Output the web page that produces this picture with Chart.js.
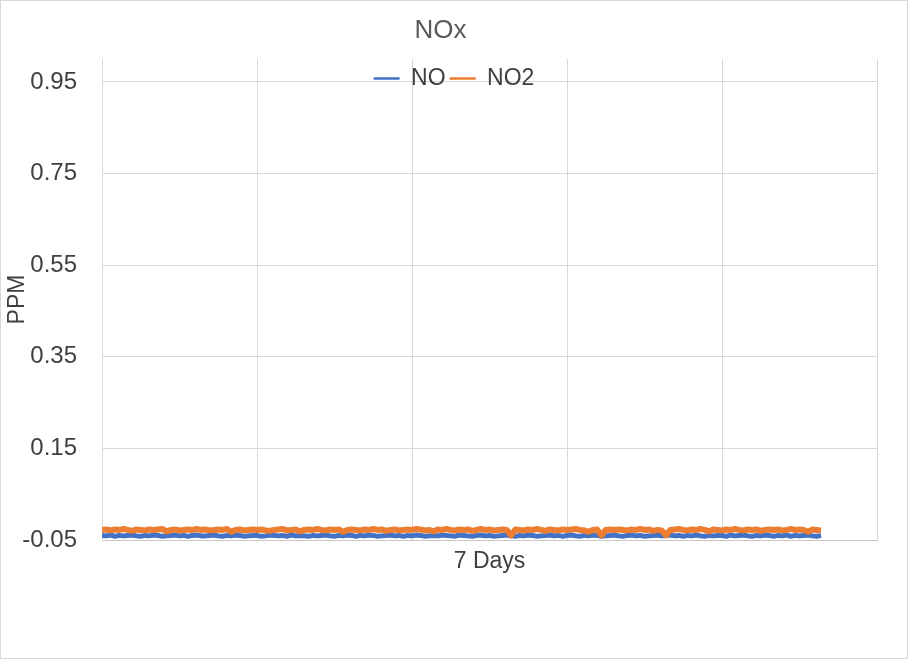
<!DOCTYPE html>
<html><head><meta charset="utf-8">
<script src="https://cdn.jsdelivr.net/npm/chart.js@4.4.1/dist/chart.umd.min.js"></script>
<style>
html,body{margin:0;padding:0;background:#fff;}
#wrap{width:908px;height:659px;box-sizing:border-box;border:1px solid #d9d9d9;background:#fff;}
canvas{display:block;}
</style></head><body>
<div id="wrap"><canvas id="c" width="906" height="657"></canvas></div>
<script>
const chartTitle = 'NOx';
const seriesNames = ['NO', 'NO2'];
const seriesColors = ['#4472C4', '#ED7D31'];
const xTitle = '7 Days';
const yTitle = 'PPM';
const yTickValues = [-0.05, 0.15, 0.35, 0.55, 0.75, 0.95];
const yTickLabels = ['-0.05', '0.15', '0.35', '0.55', '0.75', '0.95'];

const noValues = [
-0.040,-0.041,-0.039,-0.042,-0.040,-0.041,-0.040,-0.039,-0.041,-0.042,-0.040,-0.041,
-0.039,-0.040,-0.042,-0.041,-0.040,-0.039,-0.041,-0.040,-0.042,-0.040,-0.039,-0.041,
-0.041,-0.040,-0.039,-0.041,-0.042,-0.040,-0.041,-0.039,-0.040,-0.042,-0.041,-0.040,
-0.040,-0.042,-0.041,-0.039,-0.040,-0.041,-0.040,-0.042,-0.039,-0.041,-0.040,-0.041,
-0.042,-0.040,-0.041,-0.040,-0.039,-0.041,-0.042,-0.040,-0.041,-0.039,-0.040,-0.042,
-0.040,-0.041,-0.039,-0.040,-0.042,-0.041,-0.040,-0.039,-0.041,-0.040,-0.042,-0.040,
-0.041,-0.039,-0.040,-0.042,-0.041,-0.040,-0.041,-0.039,-0.040,-0.041,-0.042,-0.039,
-0.040,-0.041,-0.042,-0.040,-0.039,-0.041,-0.040,-0.042,-0.041,-0.040,-0.039,-0.041,
-0.042,-0.040,-0.041,-0.039,-0.040,-0.042,-0.041,-0.040,-0.039,-0.041,-0.040,-0.042,
-0.040,-0.039,-0.041,-0.042,-0.040,-0.041,-0.039,-0.040,-0.042,-0.041,-0.040,-0.039,
-0.041,-0.042,-0.040,-0.039,-0.041,-0.040,-0.042,-0.041,-0.040,-0.039,-0.041,-0.040,
-0.039,-0.041,-0.040,-0.042,-0.040,-0.041,-0.039,-0.041,-0.042,-0.040,-0.041,-0.040,
-0.040,-0.042,-0.039,-0.041,-0.040,-0.039,-0.041,-0.042,-0.040,-0.041,-0.039,-0.040,
-0.042,-0.040,-0.041,-0.039,-0.042,-0.040,-0.041,-0.040,-0.039,-0.041,-0.042,-0.040
];

const no2Values = [
-0.028,-0.027,-0.029,-0.027,-0.028,-0.026,-0.028,-0.030,-0.027,-0.028,-0.029,-0.027,
-0.028,-0.027,-0.026,-0.031,-0.028,-0.027,-0.029,-0.028,-0.027,-0.028,-0.026,-0.028,
-0.027,-0.029,-0.028,-0.027,-0.028,-0.026,-0.032,-0.028,-0.027,-0.029,-0.028,-0.027,
-0.028,-0.027,-0.029,-0.030,-0.028,-0.027,-0.026,-0.029,-0.028,-0.027,-0.031,-0.028,
-0.027,-0.028,-0.026,-0.028,-0.029,-0.027,-0.028,-0.027,-0.032,-0.028,-0.027,-0.028,
-0.029,-0.027,-0.028,-0.026,-0.028,-0.027,-0.030,-0.028,-0.027,-0.029,-0.028,-0.027,
-0.028,-0.026,-0.027,-0.029,-0.028,-0.031,-0.027,-0.028,-0.026,-0.028,-0.029,-0.027,
-0.028,-0.027,-0.030,-0.028,-0.026,-0.028,-0.027,-0.029,-0.028,-0.027,-0.028,-0.040,
-0.027,-0.028,-0.029,-0.027,-0.028,-0.026,-0.028,-0.030,-0.027,-0.028,-0.029,-0.027,
-0.028,-0.027,-0.026,-0.028,-0.029,-0.032,-0.028,-0.027,-0.040,-0.028,-0.027,-0.028,
-0.027,-0.028,-0.029,-0.027,-0.028,-0.026,-0.028,-0.027,-0.030,-0.028,-0.029,-0.040,
-0.028,-0.027,-0.026,-0.028,-0.029,-0.027,-0.028,-0.026,-0.028,-0.031,-0.027,-0.028,
-0.029,-0.027,-0.028,-0.026,-0.028,-0.029,-0.027,-0.028,-0.027,-0.030,-0.028,-0.027,
-0.028,-0.027,-0.029,-0.028,-0.026,-0.028,-0.027,-0.028,-0.032,-0.027,-0.028,-0.029
];

const xAxisMax = 180;     // hours shown on the axis (data covers the first 168)
const xGridStep = 36;

Chart.defaults.font.family = "'Liberation Sans', Arial, sans-serif";

// Legend sits inside the plot area, centred on the whole chart (as in the original)
const legendInside = {
  id: 'legendInside',
  beforeLayout(chart) {
    const lg = chart.legend;
    if (lg && !lg._zeroFit) {
      const fit = lg.fit.bind(lg);
      lg.fit = function () { fit(); this._realHeight = this.height; this.height = 0; };
      lg._zeroFit = true;
    }
  },
  afterLayout(chart) {
    const lg = chart.legend, ca = chart.chartArea;
    if (!lg || !ca) return;
    const dx = chart.width / 2 - (lg.left + lg.right) / 2;
    lg.left += dx;
    lg.right += dx;
    lg.top = ca.top + 4;
    lg.bottom = lg.top + (lg._realHeight || 0);
    lg.height = lg._realHeight || 0;
  }
};

const datasets = [
  {
    label: seriesNames[0],
    data: noValues.map((v, i) => ({x: i, y: v})),
    borderColor: seriesColors[0],
    backgroundColor: seriesColors[0],
    borderWidth: 5,
    pointRadius: 0,
    borderJoinStyle: 'round',
    tension: 0,
    order: 1
  },
  {
    label: seriesNames[1],
    data: no2Values.map((v, i) => ({x: i, y: v})),
    borderColor: seriesColors[1],
    backgroundColor: seriesColors[1],
    borderWidth: 6,
    pointRadius: 0,
    borderJoinStyle: 'round',
    tension: 0,
    order: 0
  }
];

new Chart(document.getElementById('c'), {
  type: 'line',
  data: { datasets },
  plugins: [legendInside],
  options: {
    responsive: false,
    animation: false,
    layout: { padding: { left: 3, right: 30, top: 0, bottom: 83 } },
    plugins: {
      tooltip: { enabled: false },
      title: {
        display: true,
        text: chartTitle,
        color: '#595959',
        font: { size: 26, weight: 'normal' },
        padding: { top: 14, bottom: 12.8 }
      },
      legend: {
        display: true,
        position: 'top',
        align: 'center',
        labels: {
          color: '#404040',
          font: { size: 23 },
          boxWidth: 26,
          boxHeight: 2.5,
          padding: 4,
          generateLabels(chart) {
            return chart.data.datasets.map((ds, i) => ({
              text: ds.label,
              fillStyle: ds.borderColor,
              strokeStyle: ds.borderColor,
              lineWidth: 0,
              hidden: false,
              datasetIndex: i,
              fontColor: '#404040'
            }));
          }
        }
      }
    },
    scales: {
      x: {
        type: 'linear',
        min: 0,
        max: xAxisMax,
        ticks: { display: false, stepSize: xGridStep },
        grid: { color: '#d9d9d9', drawTicks: false, lineWidth: 1 },
        border: { display: true, color: '#c8c8c8' },
        title: {
          display: true,
          text: xTitle,
          color: '#404040',
          font: { size: 23 },
          padding: { top: 0, bottom: 0 }
        },
        afterFit(scale) { scale.height = 35; }
      },
      y: {
        type: 'linear',
        min: -0.05,
        max: 1.0,
        afterBuildTicks(scale) {
          scale.ticks = yTickValues.map(v => ({ value: v }));
        },
        ticks: {
          color: '#404040',
          font: { size: 24 },
          padding: 25,
          callback(value, index) { return yTickLabels[index]; }
        },
        grid: { color: '#d9d9d9', drawTicks: false, lineWidth: 1 },
        border: { display: true, color: '#d9d9d9' },
        title: {
          display: true,
          text: yTitle,
          color: '#404040',
          font: { size: 23 },
          padding: { top: 0, bottom: 0 }
        },
        afterFit(scale) { scale.width = 98; }
      }
    }
  }
});
</script>
</body></html>
